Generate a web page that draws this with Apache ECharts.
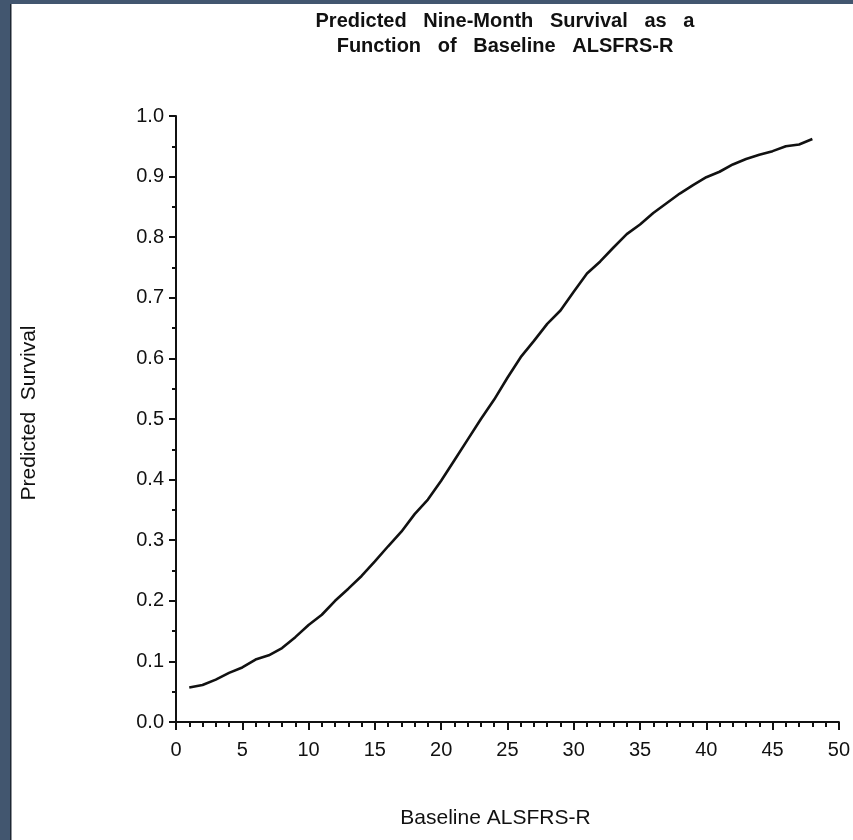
<!DOCTYPE html>
<html>
<head>
<meta charset="utf-8">
<script src="https://cdn.jsdelivr.net/npm/echarts@6/dist/echarts.min.js"></script>
<style>
html,body{margin:0;padding:0;background:#ffffff;}
#chart{width:853px;height:840px;}
</style>
</head>
<body>
<div id="chart"></div>
<script>
// Data
const baselineScore = [1,2,3,4,5,6,7,8,9,10,11,12,13,14,15,16,17,18,19,20,21,22,23,24,25,26,27,28,29,30,31,32,33,34,35,36,37,38,39,40,41,42,43,44,45,46,47,48];
const predictedSurvival = [0.057,0.061,0.070,0.081,0.090,0.103,0.110,0.122,0.140,0.160,0.177,0.200,0.220,0.241,0.265,0.290,0.314,0.343,0.367,0.398,0.432,0.466,0.500,0.532,0.568,0.602,0.629,0.657,0.679,0.710,0.740,0.760,0.783,0.805,0.821,0.840,0.856,0.872,0.886,0.899,0.908,0.920,0.929,0.936,0.942,0.950,0.953,0.962];
const titleText = 'Predicted   Nine-Month   Survival   as   a\nFunction   of   Baseline   ALSFRS-R';
const xAxisTitle = 'Baseline ALSFRS-R';
const yAxisTitle = 'Predicted  Survival';

const chart = echarts.init(document.getElementById('chart'), null, {renderer: 'canvas'});
const font = '"Liberation Sans", Arial, Helvetica, sans-serif';
const seriesData = baselineScore.map((x, i) => [x, predictedSurvival[i]]);

chart.setOption({
  backgroundColor: '#ffffff',
  animation: false,
  title: {
    text: titleText,
    left: 500,
    top: 4,
    textAlign: 'center',
    textStyle: {fontFamily: font, fontSize: 20, fontWeight: 'bold', color: '#111', lineHeight: 25}
  },
  graphic: [
    {type: 'rect', shape: {x: 0, y: 0, width: 10, height: 840}, style: {fill: '#42566f'}, z: 100},
    {type: 'rect', shape: {x: 0, y: 0, width: 853, height: 4}, style: {fill: '#42566f'}, z: 100},
    {type: 'rect', shape: {x: 10, y: 4, width: 1.5, height: 836}, style: {fill: '#1e2733'}, z: 100}
  ],
  grid: {left: 176, right: 10, top: 116, bottom: 118, containLabel: false},
  xAxis: {
    type: 'value',
    min: 0, max: 50, interval: 5,
    name: xAxisTitle,
    nameLocation: 'middle',
    nameGap: 86,
    nameTextStyle: {fontFamily: font, fontSize: 21, color: '#111', padding: [0, 24, 0, 0]},
    axisLine: {show: true, lineStyle: {color: '#111', width: 2}},
    axisTick: {show: true, length: 8, lineStyle: {color: '#111', width: 2}},
    minorTick: {show: true, splitNumber: 5, length: 5, lineStyle: {color: '#111', width: 2}},
    axisLabel: {fontFamily: font, fontSize: 20, color: '#111', margin: 18},
    splitLine: {show: false}
  },
  yAxis: {
    type: 'value',
    min: 0, max: 1, interval: 0.1,
    name: yAxisTitle,
    nameLocation: 'middle',
    nameGap: 136,
    nameRotate: 90,
    nameTextStyle: {fontFamily: font, fontSize: 21, color: '#111', padding: [0, 0, 0, 12]},
    axisLine: {show: true, lineStyle: {color: '#111', width: 2}},
    axisTick: {show: true, length: 7, lineStyle: {color: '#111', width: 2}},
    minorTick: {show: true, splitNumber: 2, length: 4, lineStyle: {color: '#111', width: 2}},
    axisLabel: {fontFamily: font, fontSize: 20, color: '#111', margin: 12, formatter: v => v.toFixed(1)},
    splitLine: {show: false}
  },
  series: [{
    type: 'line',
    data: seriesData,
    showSymbol: false,
    smooth: false,
    lineStyle: {color: '#111', width: 2.6},
    clip: false
  }]
});
</script>
</body>
</html>
